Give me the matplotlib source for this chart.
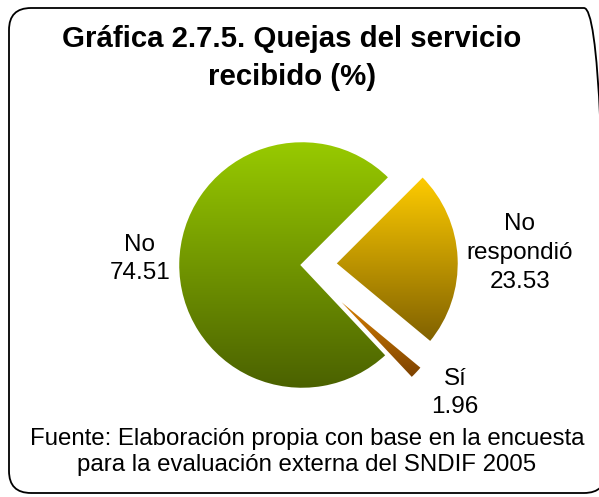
import numpy as np
import matplotlib
matplotlib.use("Agg")
import matplotlib.pyplot as plt
from matplotlib.colors import LinearSegmentedColormap
from matplotlib.patches import FancyBboxPatch

plt.rcParams["font.family"] = ["Liberation Sans", "DejaVu Sans"]

# datos de la grafica
categorias = ["No", "Sí", "No\nrespondió"]
valores = [74.51, 1.96, 23.53]
separacion = [0, 34, 33]  # en pixeles (radio del pastel = 124)
# degradado de cada rebanada: (abajo, arriba)
degradados = [("#4a6000", "#99cc00"), ("#7a4000", "#e68a00"), ("#7f6000", "#ffcc00")]

titulo = "Gráfica 2.7.5. Quejas del servicio\nrecibido (%)"
fuente = "Fuente: Elaboración propia con base en la encuesta\npara la evaluación externa del SNDIF 2005"

W, H = 599, 497
fig = plt.figure(figsize=(W / 100, H / 100), dpi=100)
ax = fig.add_axes([0, 0, 1, 1])
ax.set_xlim(0, W)
ax.set_ylim(0, H)
ax.set_aspect("equal")
ax.axis("off")

# pastel: coordenadas en pixeles, y hacia arriba
centro = (302, H - 265)
wedges, _ = ax.pie(
    valores,
    startangle=45,
    counterclock=True,
    explode=separacion,
    radius=124,
    center=centro,
    wedgeprops=dict(linewidth=1.8, edgecolor="white"),
)
ax.set_xlim(0, W)
ax.set_ylim(0, H)
ax.set_autoscale_on(False)

grad = np.linspace(0, 1, 256).reshape(-1, 1)
for i, w in enumerate(wedges):
    verts = w.get_path().vertices
    x0, x1 = verts[:, 0].min(), verts[:, 0].max()
    y0, y1 = verts[:, 1].min(), verts[:, 1].max()
    cmap = LinearSegmentedColormap.from_list("g%d" % i, degradados[i])
    im = ax.imshow(grad, cmap=cmap, extent=[x0, x1, y0, y1], origin="lower",
                   aspect="auto", interpolation="bilinear", zorder=2)
    im.set_clip_path(w)
    w.set_facecolor("none")
    w.set_zorder(3)  # borde blanco encima del degradado
ax.set_aspect("equal")

# etiquetas de las rebanadas
pos_etiquetas = [(140, H - 259), (455, H - 393), (520, H - 253)]
for cat, val, (x, y) in zip(categorias, valores, pos_etiquetas):
    ax.text(x, y, "%s\n%.2f" % (cat, val), ha="center", va="center",
            fontsize=17.5, linespacing=1.4, zorder=5)

# titulo y fuente
ax.text(292, H - 58, titulo, ha="center", va="center", fontsize=21.2,
        fontweight="bold", linespacing=1.45, zorder=5)
ax.text(307, H - 452, fuente, ha="center", va="center", fontsize=17.3,
        linespacing=1.28, zorder=5)

# marco redondeado
marco = FancyBboxPatch((9, 4), 597, 485, boxstyle="round,pad=0,rounding_size=22",
                       facecolor="none", edgecolor="black", linewidth=1.3, zorder=6)
ax.add_patch(marco)

fig.savefig("out.png", dpi=100)
